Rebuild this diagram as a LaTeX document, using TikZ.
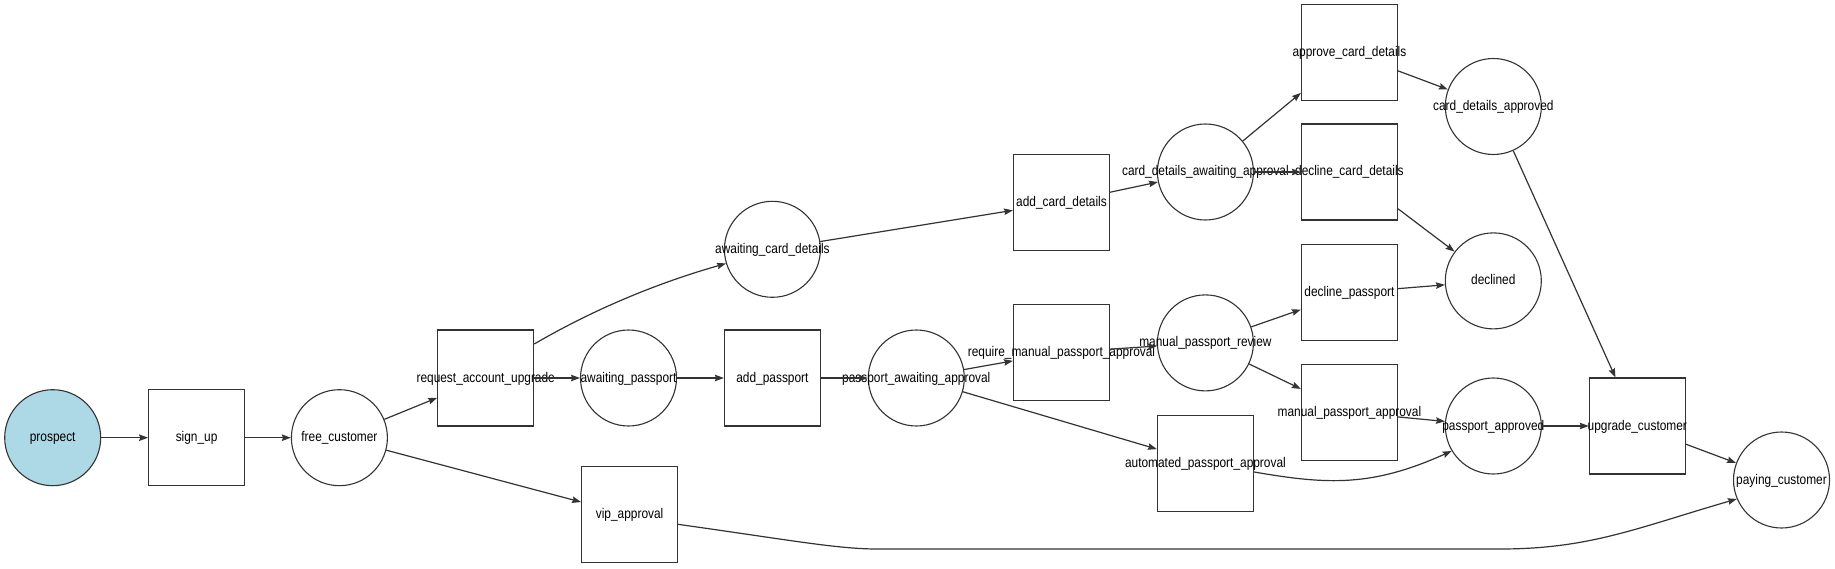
\documentclass[tikz,border=0pt]{standalone}
\usepackage{fontspec}
\setmainfont{Liberation Sans}[FakeStretch=0.85]
\usetikzlibrary{arrows.meta}
\definecolor{ink}{HTML}{333333}
\definecolor{startfill}{HTML}{ADD8E6}
\newcommand\nlab[1]{\makebox[0pt]{#1}}
\begin{document}
\begin{tikzpicture}[x=1pt,y=-1pt,
  lbl/.style={font=\fontsize{14}{16}\selectfont, text=black, text height=10pt, text depth=2pt},
  place/.style={lbl, circle, draw=ink, line width=1.1pt, minimum size=96pt, inner sep=0pt},
  trans/.style={lbl, rectangle, draw=ink, line width=1.1pt, minimum width=96pt, minimum height=96pt, inner sep=0pt},
  flow/.style={draw=ink, line width=1.2pt, -{Stealth[length=9pt,width=6.5pt,inset=1.2pt]}}]
\useasboundingbox (0,0) rectangle (1835,569);
\fill[white] (0,0) rectangle (1835,569);

\node[place, fill=startfill] (prospect) at (52.7,437.7) {\nlab{prospect}};
\node[trans] (signup) at (196.6,437.7) {\nlab{sign\_up}};
\node[place] (free) at (339.4,437.7) {\nlab{free\_customer}};
\node[trans] (rau) at (485.7,378) {\nlab{request\_account\_upgrade}};
\node[place] (awp) at (628.5,378) {\nlab{awaiting\_passport}};
\node[trans] (addp) at (772.4,378) {\nlab{add\_passport}};
\node[place] (paa) at (916.3,378) {\nlab{passport\_awaiting\_approval}};
\node[trans] (vip) at (629.6,514.9) {\nlab{vip\_approval}};
\node[place] (acd) at (772.4,249.3) {\nlab{awaiting\_card\_details}};
\node[trans] (addcd) at (1061.5,202.5) {\nlab{add\_card\_details}};
\node[trans] (rmpa) at (1061.5,352.3) {\nlab{require\_manual\_passport\_approval}};
\node[place] (cdaa) at (1205.4,172.0) {\nlab{card\_details\_awaiting\_approval}};
\node[place] (mpr) at (1205.4,342.9) {\nlab{manual\_passport\_review}};
\node[trans] (apa) at (1205.4,463.4) {\nlab{automated\_passport\_approval}};
\node[trans] (approvecd) at (1349.4,52.7) {\nlab{approve\_card\_details}};
\node[trans] (declinecd) at (1349.4,172.0) {\nlab{decline\_card\_details}};
\node[trans] (declinepp) at (1349.4,292.6) {\nlab{decline\_passport}};
\node[trans] (mpa) at (1349.4,412.3) {\nlab{manual\_passport\_approval}};
\node[place] (cdapproved) at (1493.3,106.5) {\nlab{card\_details\_approved}};
\node[place] (declined) at (1493.3,280.9) {\nlab{declined}};
\node[place] (ppapproved) at (1493.3,426.0) {\nlab{passport\_approved}};
\node[trans] (upgrade) at (1637.3,426.0) {\nlab{upgrade\_customer}};
\node[place] (paying) at (1781.5,480) {\nlab{paying\_customer}};

\coordinate (vipA) at (877,549);
\coordinate (vipB) at (1500,549);

\draw[flow] (prospect) -- (signup);
\draw[flow] (signup) -- (free);
\draw[flow] (free) -- (rau);
\draw[flow] (free) -- (vip);
\draw[flow] (rau.35) .. controls (593.7,309.4) and (656.5,283.3) .. (acd.197);
\draw[flow] (rau) -- (awp);
\draw[flow] (awp) -- (addp);
\draw[flow] (addp) -- (paa);
\draw[flow] (acd) -- (addcd);
\draw[flow] (paa) -- (rmpa);
\draw[flow] (paa) -- (apa);
\draw[flow] (addcd) -- (cdaa);
\draw[flow] (rmpa) -- (mpr);
\draw[flow] (cdaa) -- (approvecd);
\draw[flow] (cdaa) -- (declinecd);
\draw[flow] (mpr) -- (declinepp);
\draw[flow] (mpr) -- (mpa);
\draw[flow] (approvecd) -- (cdapproved);
\draw[flow] (declinecd) -- (declined);
\draw[flow] (declinepp) -- (declined);
\draw[flow] (mpa) -- (ppapproved);
\draw[flow] (apa.-10) .. controls (1328.4,484.9) and (1372.2,486.7) .. (ppapproved.211);
\draw[flow] (cdapproved) -- (upgrade);
\draw[flow] (ppapproved) -- (upgrade);
\draw[flow] (upgrade) -- (paying);
\draw[flow] (vip.-11) .. controls (787.6,539.7) and (837,549) .. (vipA) -- (vipB)
  .. controls (1590,549) and (1637.3,527.8) .. (paying.203);
\end{tikzpicture}
\end{document}
